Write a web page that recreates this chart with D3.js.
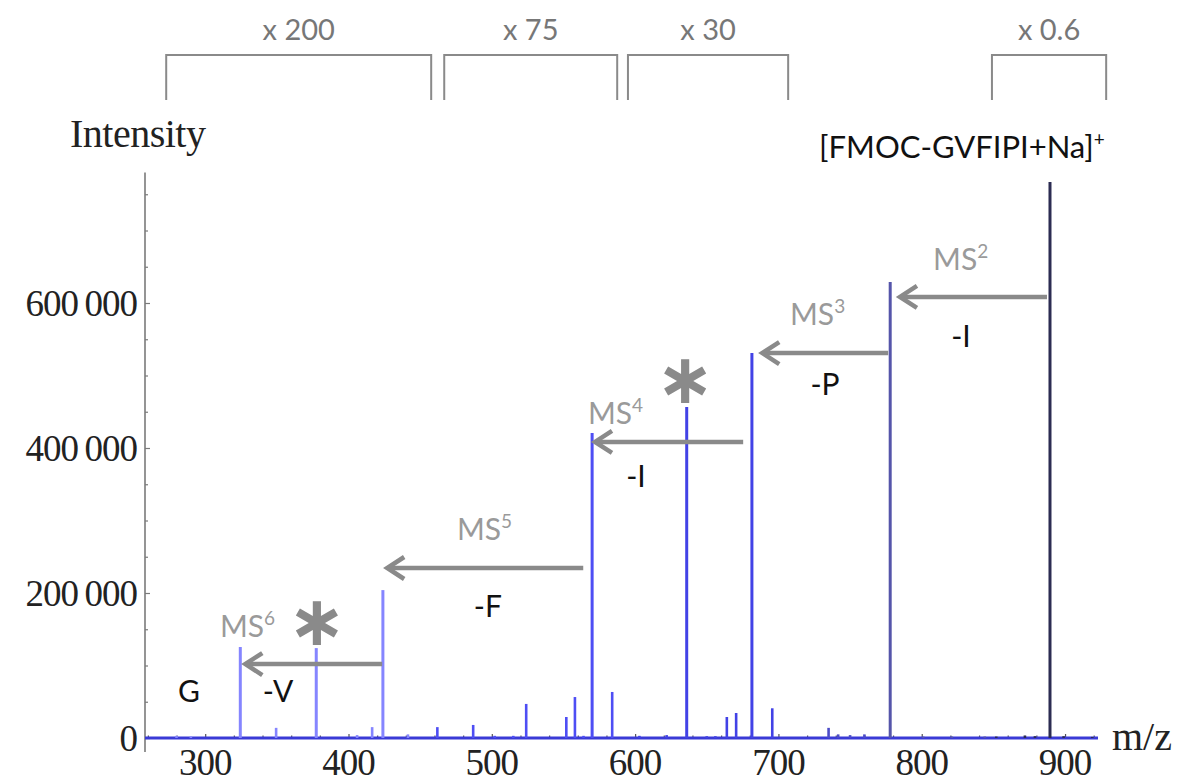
<!DOCTYPE html>
<html>
<head>
<meta charset="utf-8">
<script src="https://cdn.jsdelivr.net/npm/d3@7/dist/d3.min.js"></script>
<style>
  html, body { margin: 0; padding: 0; background: #fff; }
  svg { display: block; }
</style>
</head>
<body>
<svg id="chart" width="1183" height="779"></svg>
<script>
// Peak list of the MSn spectrum (m/z, intensity)
const peakMz = [
  280, 290, 324.5, 349.5, 377.5, 406, 416.5, 424, 441.5,
  462, 487, 502, 515, 524, 552, 558, 564, 570, 584,
  603, 622, 636, 650, 656, 664, 670.5, 681.5, 695.7,
  735, 741.7, 750, 760, 778, 801, 821, 844, 852, 872, 879, 889.5, 899, 919
];
const peakIntensity = [
  3000, 2000, 125500, 14000, 124000, 4000, 15000, 204000, 5000,
  15000, 18000, 3000, 3000, 47000, 29000, 56500, 3000, 420700, 63500,
  3000, 4000, 456500, 2500, 2500, 29000, 34500, 531000, 41000,
  14000, 5000, 4000, 5000, 629000, 2000, 2000, 2000, 2000, 3500, 2500, 767000, 2500, 1500
];

// Axis ticks
const xTicks = [300, 400, 500, 600, 700, 800, 900];
const yTickValues = [0, 200000, 400000, 600000];
const yTickLabels = ["0", "200\u2009000", "400\u2009000", "600\u2009000"];

// Scaling brackets across the top (m/z span and factor)
const bracketLabels = ["x 200", "x 75", "x 30", "x 0.6"];
const bracketStart = [272.8, 466.8, 595, 849];
const bracketEnd = [457.7, 587.5, 706.8, 928.7];

// Fragmentation steps: arrow from precursor to product, at an intensity level
const stepStage = ["2", "3", "4", "5", "6"];
const stepFrom = [887.4, 776.6, 675.4, 563.8, 423.5];
const stepTo = [784.8, 688.7, 572, 427, 328];
const stepLevel = [608300, 531000, 408300, 234500, 102000];
const stepLoss = ["-I", "-P", "-I", "-F", "-V"];
// anchors of the stage labels (left edge) and the neutral-loss labels (centre)
const stageMz = [807.9, 708.1, 567.1, 475.7, 310.3];
const stageLevel = [645500, 569600, 432500, 273100, 139300];
const lossMz = [827.4, 732.5, 600.6, 497.3, 350.8];
const lossLevel = [539300, 473100, 346200, 166900, 49650];

// Terminal residue label
const residueMz = 288.7;
const residueLevel = 49650;

// Marked side peaks (centre of the asterisk)
const starMz = [635, 378];
const starLevel = [489600, 155900];

const svg = d3.select("#chart");
const x = d3.scaleLinear().domain([258, 923]).range([145, 1098]);
const y = d3.scaleLinear().domain([0, 780000]).range([738, 172.5]);

const serif = "'Liberation Serif', 'Times New Roman', serif";
const sans = "Lato, 'Open Sans', sans-serif";

function peakColor(mz) {
  if (mz < 462) return "#8585ff";
  if (mz < 592) return "#4e4ef4";
  if (mz < 710) return "#4242e6";
  if (mz < 770) return "#4c4cc8";
  if (mz < 850) return "#5555aa";
  return "#2c2c52";
}

// Y axis
const yAxis = d3.axisRight(y)
  .tickValues(d3.range(0, 780001, 50000))
  .tickSize(0)
  .tickFormat("");
const gy = svg.append("g").attr("transform", `translate(${x(258)},0)`).call(yAxis);
gy.select(".domain").remove();
svg.append("line")
  .attr("x1", x(258)).attr("x2", x(258))
  .attr("y1", y(780000)).attr("y2", 752)
  .attr("stroke", "#7a7a7a").attr("stroke-width", 1.6);
gy.selectAll(".tick line")
  .attr("x2", d => yTickValues.includes(d) ? 5 : 3)
  .attr("stroke", "#7a7a7a").attr("stroke-width", 1.2);

svg.append("g").selectAll("text")
  .data(yTickValues)
  .join("text")
  .attr("x", 137)
  .attr("y", d => y(d) + 13)
  .attr("text-anchor", "end")
  .attr("font-family", serif)
  .attr("font-size", 37)
  .attr("letter-spacing", -1)
  .attr("fill", "#222")
  .text((d, i) => yTickLabels[i]);

// X axis
const xAxis = d3.axisTop(x)
  .tickValues(d3.range(260, 921, 20))
  .tickSize(0)
  .tickFormat("");
const gx = svg.append("g").attr("transform", `translate(0,${y(0)})`).call(xAxis);
gx.select(".domain").remove();
gx.selectAll(".tick line")
  .attr("y2", d => xTicks.includes(d) ? -4 : -2.5)
  .attr("stroke", "#555").attr("stroke-width", 1.2);

svg.append("g").selectAll("text")
  .data(xTicks)
  .join("text")
  .attr("x", d => x(d))
  .attr("y", 775)
  .attr("text-anchor", "middle")
  .attr("font-family", serif)
  .attr("font-size", 37)
  .attr("letter-spacing", -1)
  .attr("fill", "#222")
  .text(d => d);

// Baseline of the spectrum
svg.append("line")
  .attr("x1", x(258)).attr("x2", x(923))
  .attr("y1", y(0)).attr("y2", y(0))
  .attr("stroke", "#3a3ad6").attr("stroke-width", 3);

// Peaks
svg.append("g").selectAll("line")
  .data(peakMz.map((m, i) => ({ m, v: peakIntensity[i] })))
  .join("line")
  .attr("x1", d => x(d.m)).attr("x2", d => x(d.m))
  .attr("y1", y(0)).attr("y2", d => y(d.v))
  .attr("stroke", d => peakColor(d.m))
  .attr("stroke-width", d => d.v > 100000 ? 3 : 2.6);

// Axis titles
svg.append("text")
  .attr("x", 70).attr("y", 147)
  .attr("font-family", serif).attr("font-size", 40)
  .attr("letter-spacing", -0.5)
  .attr("fill", "#222")
  .text("Intensity");
svg.append("text")
  .attr("x", 1112).attr("y", 750)
  .attr("font-family", serif).attr("font-size", 40)
  .attr("fill", "#222")
  .text("m/z");

// Scaling brackets
const grey = "#8a8a8a";
const brackets = svg.append("g");
bracketLabels.forEach((lab, i) => {
  const x0 = x(bracketStart[i]), x1 = x(bracketEnd[i]);
  brackets.append("path")
    .attr("d", `M${x0},100 V55 H${x1} V100`)
    .attr("fill", "none").attr("stroke", grey).attr("stroke-width", 2);
  brackets.append("text")
    .attr("x", (x0 + x1) / 2).attr("y", 40)
    .attr("text-anchor", "middle")
    .attr("font-family", sans).attr("font-size", 29)
    .attr("fill", "#777")
    .text(lab);
});

// Precursor ion label
const prec = svg.append("text")
  .attr("x", 962).attr("y", 158)
  .attr("text-anchor", "middle")
  .attr("font-family", sans).attr("font-size", 31)
  .attr("fill", "#111");
prec.append("tspan").text("[FMOC-GVFIPI+Na]");
prec.append("tspan").attr("dy", -12).attr("font-size", 19).text("+");

// Fragmentation arrows
const arrows = svg.append("g");
stepStage.forEach((s, i) => {
  const xs = x(stepFrom[i]), xt = x(stepTo[i]), yy = y(stepLevel[i]);
  arrows.append("line")
    .attr("x1", xs).attr("x2", xt + 2).attr("y1", yy).attr("y2", yy)
    .attr("stroke", grey).attr("stroke-width", 4.5);
  arrows.append("path")
    .attr("d", `M${xt + 17},${yy - 11} L${xt},${yy} L${xt + 17},${yy + 11}`)
    .attr("fill", "none").attr("stroke", grey).attr("stroke-width", 4.5)
    .attr("stroke-linejoin", "miter");

  const t = arrows.append("text")
    .attr("x", x(stageMz[i])).attr("y", y(stageLevel[i]))
    .attr("font-family", sans).attr("font-size", 30)
    .attr("fill", "#9a9a9a");
  t.append("tspan").text("MS");
  t.append("tspan").attr("dy", -12).attr("font-size", 19).text(s);

  arrows.append("text")
    .attr("x", x(lossMz[i])).attr("y", y(lossLevel[i]))
    .attr("text-anchor", "middle")
    .attr("font-family", sans).attr("font-size", 30)
    .attr("fill", "#111")
    .text(stepLoss[i]);
});

svg.append("text")
  .attr("x", x(residueMz)).attr("y", y(residueLevel))
  .attr("text-anchor", "middle")
  .attr("font-family", sans).attr("font-size", 30)
  .attr("fill", "#111")
  .text("G");

// Asterisks over the marked peaks
svg.append("g").selectAll("text")
  .data(starMz)
  .join("text")
  .attr("x", d => x(d))
  .attr("y", (d, i) => y(starLevel[i]) + 20)
  .attr("text-anchor", "middle")
  .attr("font-family", "'DejaVu Sans', sans-serif")
  .attr("font-size", 70)
  .attr("font-weight", "bold")
  .attr("fill", "#8a8a8a")
  .text("\u2217");
</script>
</body>
</html>
